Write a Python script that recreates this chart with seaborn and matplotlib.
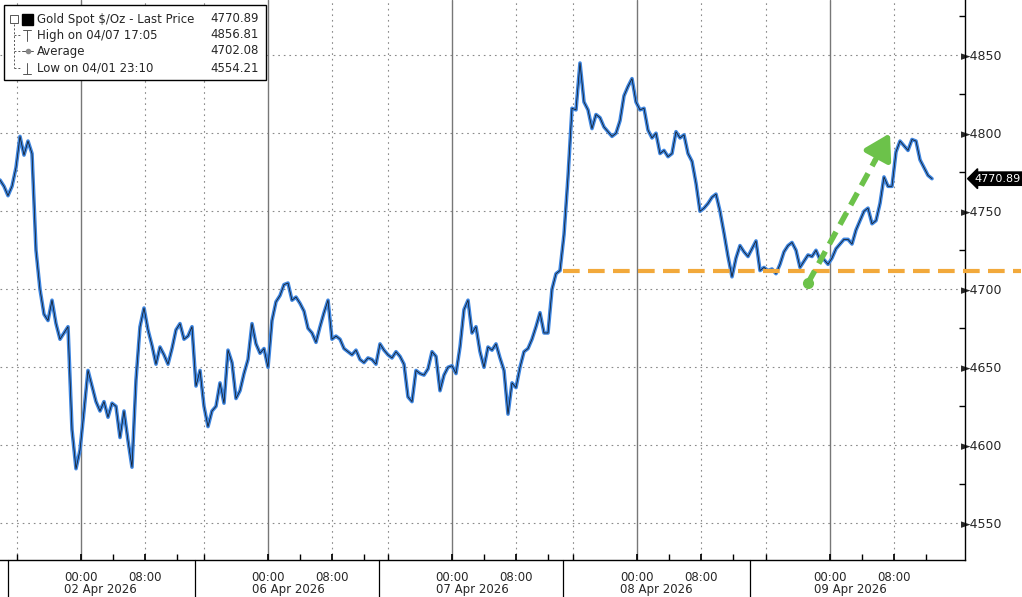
import numpy as np
import pandas as pd
import matplotlib
matplotlib.use("Agg")
import matplotlib.pyplot as plt
import seaborn as sns
from matplotlib.patches import Rectangle
from matplotlib.transforms import blended_transform_factory

# ---- data: 30-minute closes per trading session ----
apr02 = [4770, 4766, 4760, 4766, 4778, 4798, 4786, 4795, 4787, 4725, 4700, 4684,
         4680, 4693, 4678, 4668, 4672, 4676, 4610, 4585, 4597, 4622, 4648, 4638,
         4628, 4622, 4628, 4618, 4627, 4625, 4605, 4622, 4603, 4586, 4642, 4676,
         4688, 4674, 4664, 4652, 4663, 4658, 4652, 4662, 4674, 4678, 4668, 4670, 4676]
apr06 = [4638, 4648, 4625, 4612, 4622, 4625, 4640, 4627, 4661, 4653, 4630, 4635,
         4646, 4655, 4678, 4665, 4659, 4662, 4650, 4680, 4692, 4696, 4703, 4704,
         4693, 4695, 4691, 4686, 4675, 4672, 4666, 4676, 4685, 4693, 4668, 4670,
         4668, 4662, 4660, 4658, 4661, 4655, 4653, 4656, 4655, 4652]
apr07 = [4665, 4661, 4658, 4656, 4660, 4657, 4652, 4631, 4628, 4648, 4646, 4645,
         4649, 4660, 4657, 4635, 4645, 4650, 4651, 4646, 4663, 4687, 4693, 4672,
         4676, 4660, 4650, 4663, 4661, 4665, 4656, 4648, 4620, 4640, 4637, 4650,
         4660, 4662, 4668, 4676, 4685, 4672, 4672, 4700, 4710, 4712]
apr08 = [4735, 4772, 4816, 4815, 4845, 4820, 4815, 4803, 4812, 4810, 4804, 4801,
         4798, 4800, 4808, 4824, 4830, 4835, 4820, 4815, 4816, 4802, 4797, 4800,
         4787, 4789, 4785, 4787, 4801, 4797, 4799, 4787, 4782, 4768, 4750, 4752,
         4755, 4759, 4761, 4750, 4736, 4721, 4708, 4720, 4728, 4724, 4721]
apr09 = [4731, 4712, 4714, 4712, 4713, 4710, 4716, 4724, 4728, 4730, 4725, 4714,
         4718, 4722, 4721, 4725, 4719, 4719, 4716, 4720, 4726, 4729, 4732, 4732,
         4729, 4738, 4744, 4750, 4752, 4742, 4744, 4755, 4772, 4766, 4766, 4788,
         4795, 4792, 4789, 4796, 4795, 4783, 4778, 4773, 4770.89]
sessions = [apr02, apr06, apr07, apr08, apr09]
session_start = [0.0, 24.5, 47.5, 70.5, 94.5]      # chart hours
bar_step = 0.5                                       # 30 minutes

day_labels = ["02 Apr 2026", "06 Apr 2026", "07 Apr 2026", "08 Apr 2026", "09 Apr 2026"]
midnights = [10.1, 33.5, 56.5, 79.6, 103.75]
separators = [1.0, 24.4, 47.4, 70.4, 93.75]

support_level = 4711.5
arrow_from = (101.0, 4704)
arrow_to = (111.25, 4800)
last_price = 4770.89

legend_rows = [("Gold Spot $/Oz - Last Price", "4770.89"),
               ("High on 04/07 17:05", "4856.81"),
               ("Average", "4702.08"),
               ("Low on 04/01 23:10", "4554.21")]

rows = []
for start, vals in zip(session_start, sessions):
    for i, v in enumerate(vals):
        rows.append((start + i * bar_step, v))
df = pd.DataFrame(rows, columns=["hours", "price"])

# ---- figure ----
sns.set_theme(style="white")
plt.rcParams["font.family"] = ["DejaVu Sans"]
W, H = 1022, 597
fig = plt.figure(figsize=(W / 100, H / 100), dpi=100)
ax = fig.add_axes([0, 1 - 560 / H, 965 / W, 560 / H])

xmax = 965 / 8
ax.set_xlim(0, xmax)
ax.set_ylim(4526.5, 4885.4)

# grid
grid_kw = dict(color="#8a8a8a", lw=0.8, linestyle=(0, (1.5, 3.5)), zorder=0)
for y in range(4550, 4851, 50):
    ax.axhline(y, **grid_kw)
for m in midnights:
    ax.axvline(m, color="#777777", lw=1.0, zorder=0)
    ax.axvline(m + 8, **grid_kw)
    ax.axvline(m - 8, **grid_kw)

# price line
sns.lineplot(data=df, x="hours", y="price", estimator=None, ax=ax,
             color="#3f86e0", lw=2.6, zorder=3)
ax.plot(df["hours"], df["price"], color="#111111", lw=0.5, zorder=4)

# support line and arrow
ax.plot([separators[3], 127.6], [support_level, support_level], color="#f2a93b",
        lw=3, linestyle=(0, (4, 2)), clip_on=False, zorder=5)
frac = 0.82
head_base = (arrow_from[0] + frac * (arrow_to[0] - arrow_from[0]),
             arrow_from[1] + frac * (arrow_to[1] - arrow_from[1]))
ax.plot([arrow_from[0], head_base[0]], [arrow_from[1], head_base[1]],
        color="#6cc24a", lw=4, linestyle=(0, (2.5, 1.5)), zorder=6)
ax.annotate("", xy=arrow_to, xytext=head_base,
            arrowprops=dict(arrowstyle="-|>,head_length=1.0,head_width=0.6",
                            color="#6cc24a", lw=4, mutation_scale=15,
                            shrinkA=0, shrinkB=0), zorder=6)
ax.plot(*arrow_from, "o", color="#6cc24a", ms=7, zorder=6)

# spines
for s in ["top", "left"]:
    ax.spines[s].set_visible(False)
for s in ["bottom", "right"]:
    ax.spines[s].set_color("black")
    ax.spines[s].set_linewidth(1.0)

# y axis on the right
ax.yaxis.tick_right()
yt = list(range(4550, 4851, 50))
ax.set_yticks(yt)
ax.set_yticklabels(["\u25ba" + str(v) for v in yt], fontsize=9)
ax.set_yticks(list(range(4575, 4876, 50)), minor=True)
ax.tick_params(axis="y", which="major", length=0, pad=-3)
ax.tick_params(axis="y", which="minor", right=True, length=4, direction="in", color="black")
ax.set_ylabel("")

# x axis
major = sorted(midnights + [m + 8 for m in midnights])
ax.set_xticks(major)
ax.set_xticklabels(["00:00", "08:00"] * len(midnights), fontsize=8.5)
minor = [m + d for m in midnights for d in (-8, 4, 12)]
ax.set_xticks([v for v in minor if 0 < v < xmax], minor=True)
ax.tick_params(axis="x", which="both", bottom=True, direction="in", length=4,
               color="black", pad=8)
ax.set_xlabel("")

trans = blended_transform_factory(ax.transData, ax.transAxes)
for sep in separators:
    ax.plot([sep, sep], [0, -37 / 560], color="black", lw=0.9, transform=trans,
            clip_on=False)
for m, lab in zip(midnights, day_labels):
    ax.text(m + 2.5, -29 / 560, lab, transform=trans, ha="center", va="center",
            fontsize=8.5)

# last price tag
ax.annotate(f"{last_price:.2f}", xy=(1.0, last_price),
            xycoords=("axes fraction", "data"), xytext=(7, 0),
            textcoords="offset points", ha="left", va="center", color="white",
            fontsize=8,
            bbox=dict(boxstyle="larrow,pad=0.15", fc="black", ec="black"))

# legend box
def fx(x):
    return x / W

def fy(y):
    return 1 - y / H

fig.patches.append(Rectangle((fx(4), fy(80)), fx(262), 75 / H, transform=fig.transFigure,
                             fc="white", ec="black", lw=1.0, zorder=10))
row_y = [19, 35, 51, 68]
for (lab, val), y in zip(legend_rows, row_y):
    fig.text(fx(37), fy(y), lab, ha="left", va="center", fontsize=8.5, zorder=11)
    fig.text(fx(259), fy(y), val, ha="right", va="center", fontsize=8.5, zorder=11)
# tree
tree_kw = dict(color="#555555", lw=0.7, transform=fig.transFigure, zorder=11)
fig.add_artist(plt.Line2D([fx(14), fx(14)], [fy(24), fy(68)], linestyle=(0, (2, 2)), **tree_kw))
for y in row_y[1:]:
    fig.add_artist(plt.Line2D([fx(14), fx(21)], [fy(y), fy(y)], linestyle=(0, (2, 2)), **tree_kw))
fig.patches.append(Rectangle((fx(10), fy(23)), fx(8), 8 / H, transform=fig.transFigure,
                             fc="white", ec="#555555", lw=0.7, zorder=11))
fig.add_artist(plt.Line2D([fx(12), fx(16)], [fy(19), fy(19)], **tree_kw))
fig.patches.append(Rectangle((fx(22), fy(25)), fx(11), 11 / H, transform=fig.transFigure,
                             fc="black", ec="black", zorder=11))
# high marker
fig.add_artist(plt.Line2D([fx(27), fx(27)], [fy(30), fy(41)], **tree_kw))
fig.add_artist(plt.Line2D([fx(23), fx(31)], [fy(30), fy(30)], **tree_kw))
# average marker
fig.add_artist(plt.Line2D([fx(22), fx(33)], [fy(51), fy(51)], **tree_kw))
fig.add_artist(plt.Line2D([fx(27.5)], [fy(51)], marker="o", ms=3, mfc="#888888",
                          mec="#888888", **tree_kw))
# low marker
fig.add_artist(plt.Line2D([fx(27), fx(27)], [fy(63), fy(74)], **tree_kw))
fig.add_artist(plt.Line2D([fx(23), fx(31)], [fy(74), fy(74)], **tree_kw))

fig.savefig("out.png", dpi=100)
